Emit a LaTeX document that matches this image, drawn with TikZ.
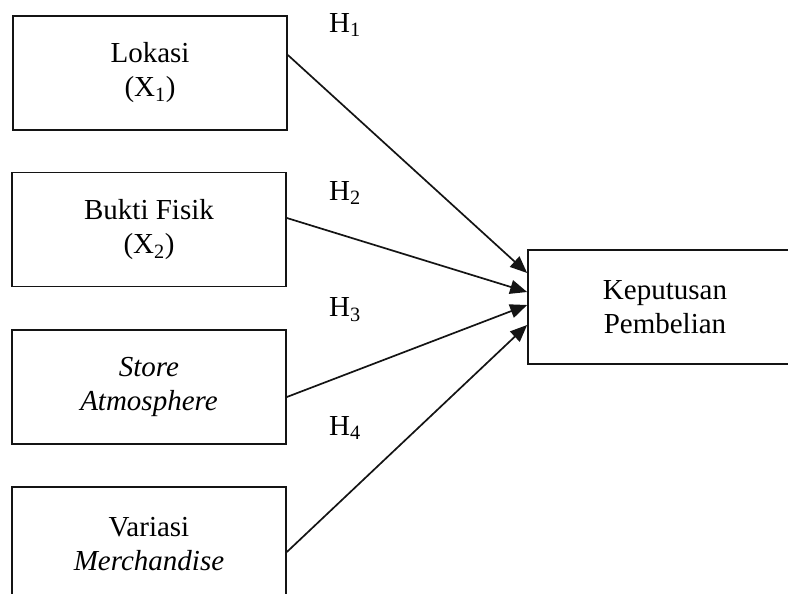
\documentclass[tikz,border=0pt]{standalone}
\usepackage{fontspec}
\setmainfont{Liberation Serif}
\usepackage{tikz}
\usepackage{xcolor}
\usetikzlibrary{positioning, arrows.meta}
\definecolor{lineblack}{RGB}{20, 20, 20}
\tikzset{
    varbox/.style={rectangle, draw=lineblack, line width=1.7pt, minimum width=274pt, minimum height=114pt, align=center, font=\fontsize{29}{34}\selectfont, inner sep=0pt},
    hyplabel/.style={font=\fontsize{29}{34}\selectfont, inner sep=0pt},
    hyparrow/.style={draw=lineblack, line width=1.7pt, -{Triangle[length=17pt,width=14pt]}}
}
\begin{document}
\begin{tikzpicture}[x=1pt, y=-1pt]
                    \useasboundingbox (0,0) rectangle (788,594);
                    \clip (0,0) rectangle (788,594);
                    \node[varbox] (lokasi) at (150,73) {Lokasi\\(X\textsubscript{1})};
                    \node[varbox] (bukti) at (149,229.5) {Bukti Fisik\\(X\textsubscript{2})};
                    \node[varbox] (store) at (149,387) {\textit{Store}\\\textit{Atmosphere}};
                    \node[varbox] (variasi) at (149,544) {Variasi\\\textit{Merchandise}};
                    \node[varbox] (keputusan) at (665,307) {Keputusan\\Pembelian};
                    
                    \node[hyplabel] (h1) at (345,25) {H\textsubscript{1}};
                    \node[hyplabel] (h2) at (345,193) {H\textsubscript{2}};
                    \node[hyplabel] (h3) at (345,310) {H\textsubscript{3}};
                    \node[hyplabel] (h4) at (345,428) {H\textsubscript{4}};
                    
                    \draw[hyparrow] ([yshift=18pt]lokasi.east) -- ([yshift=34pt]keputusan.west);
                    \draw[hyparrow] ([yshift=11.5pt]bukti.east) -- ([yshift=15pt]keputusan.west);
                    \draw[hyparrow] ([yshift=-10pt]store.east) -- ([yshift=2pt]keputusan.west);
                    \draw[hyparrow] ([yshift=-8pt]variasi.east) -- ([yshift=-18pt]keputusan.west);
                \end{tikzpicture}
\end{document}
